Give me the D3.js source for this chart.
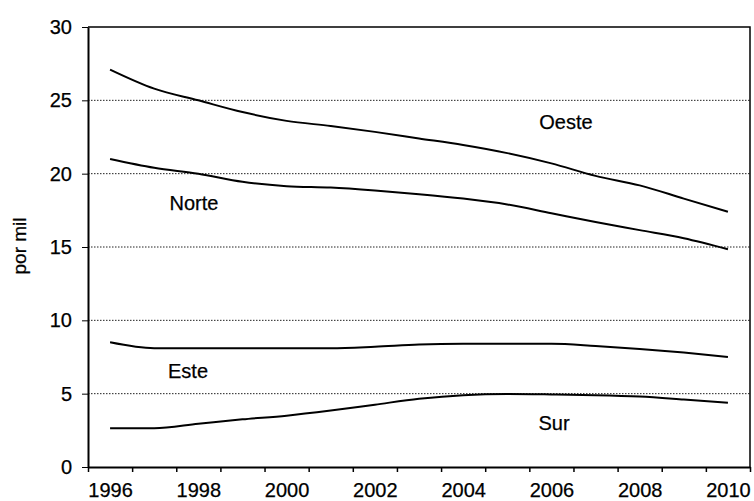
<!DOCTYPE html>
<html lang="es">
  <head>
    <meta charset="UTF-8" />
    <title>por mil</title>
    <script src="https://cdn.jsdelivr.net/npm/d3@7"></script>
    <style>
      body { margin: 0; background: #fff; }
      svg { display: block; font-family: "Liberation Sans", Arial, Helvetica, sans-serif; }
      text { stroke: #000; stroke-width: 0.25px; }
    </style>
  </head>
  <body>
    <script>
      var years = [1996, 1997, 1998, 1999, 2000, 2001, 2002, 2003, 2004, 2005, 2006, 2007, 2008, 2009, 2010];
      var oeste = [27.1, 25.8, 25.0, 24.2, 23.6, 23.25, 22.85, 22.4, 21.95, 21.4, 20.7, 19.85, 19.2, 18.3, 17.4];
      var norte = [21.0, 20.4, 20.0, 19.45, 19.15, 19.05, 18.85, 18.6, 18.3, 17.9, 17.3, 16.7, 16.15, 15.6, 14.85];
      var este = [8.5, 8.1, 8.1, 8.1, 8.1, 8.1, 8.2, 8.35, 8.4, 8.4, 8.4, 8.25, 8.05, 7.8, 7.5];
      var sur = [2.65, 2.65, 2.95, 3.25, 3.5, 3.85, 4.25, 4.65, 4.9, 4.98, 4.95, 4.9, 4.8, 4.6, 4.38];
      var yTicks = [0, 5, 10, 15, 20, 25, 30];
      var xLabels = [1996, 1998, 2000, 2002, 2004, 2006, 2008, 2010];
      var series = [
        { name: "Oeste", values: oeste, lx: 566, ly: 122 },
        { name: "Norte", values: norte, lx: 194, ly: 203 },
        { name: "Este", values: este, lx: 188, ly: 371 },
        { name: "Sur", values: sur, lx: 554, ly: 423 }
      ];

      var W = 754, H = 501;
      var mLeft = 88, mRight = 750, mTop = 27, mBottom = 467;

      var svg = d3.select("body").append("svg").attr("width", W).attr("height", H);

      var x = d3.scaleLinear().domain([1995.5, 2010.5]).range([mLeft, mRight]);
      var y = d3.scaleLinear().domain([0, 30]).range([mBottom, mTop]);

      // dotted grid
      svg.append("g")
        .selectAll("line")
        .data(yTicks.filter(function (d) { return d > 0 && d < 30; }))
        .enter()
        .append("line")
        .attr("x1", mLeft)
        .attr("x2", mRight)
        .attr("y1", function (d) { return y(d); })
        .attr("y2", function (d) { return y(d); })
        .attr("stroke", "#222")
        .attr("stroke-width", 1)
        .attr("stroke-dasharray", "1.5,1.5");

      // frame top + right
      svg.append("path")
        .attr("d", "M" + mLeft + "," + mTop + "H" + mRight + "V" + mBottom)
        .attr("fill", "none")
        .attr("stroke", "#000")
        .attr("stroke-width", 1.5);

      // y axis
      var yAxis = svg.append("g")
        .attr("transform", "translate(" + mLeft + ",0)")
        .call(d3.axisLeft(y).tickValues(yTicks).tickSize(6).tickPadding(10).tickSizeOuter(0));
      yAxis.select(".domain").attr("stroke-width", 2);
      yAxis.selectAll("text").attr("font-size", 20).attr("fill", "#000").attr("font-family", null);

      // x axis ticks at year boundaries
      var edges = d3.range(1995.5, 2011, 1);
      var xAxis = svg.append("g")
        .attr("transform", "translate(0," + mBottom + ")")
        .call(d3.axisBottom(x).tickValues(edges).tickFormat("").tickSize(5).tickSizeOuter(0));
      xAxis.select(".domain").attr("stroke-width", 2);
      xAxis.selectAll(".tick line").attr("stroke-width", 1.5);

      // x labels centered on the years
      var xLab = svg.append("g")
        .attr("transform", "translate(0," + mBottom + ")")
        .call(d3.axisBottom(x).tickValues(xLabels).tickFormat(d3.format("d")).tickSize(0).tickPadding(16));
      xLab.select(".domain").remove();
      xLab.selectAll("text").attr("font-size", 20).attr("fill", "#000").attr("font-family", null);

      // lines
      var line = d3.line()
        .x(function (d, i) { return x(years[i]); })
        .y(function (d) { return y(d); })
        .curve(d3.curveMonotoneX);

      svg.append("g")
        .selectAll("path")
        .data(series)
        .enter()
        .append("path")
        .attr("d", function (d) { return line(d.values); })
        .attr("fill", "none")
        .attr("stroke", "#000")
        .attr("stroke-width", 2);

      svg.append("g")
        .selectAll("text")
        .data(series)
        .enter()
        .append("text")
        .attr("x", function (d) { return d.lx; })
        .attr("y", function (d) { return d.ly; })
        .attr("dy", "0.35em")
        .attr("text-anchor", "middle")
        .attr("font-size", 20)
        .text(function (d) { return d.name; });

      svg.append("text")
        .attr("transform", "translate(26,246) rotate(-90)")
        .attr("text-anchor", "middle")
        .attr("font-size", 19)
        .text("por mil");
    </script>
  </body>
</html>
